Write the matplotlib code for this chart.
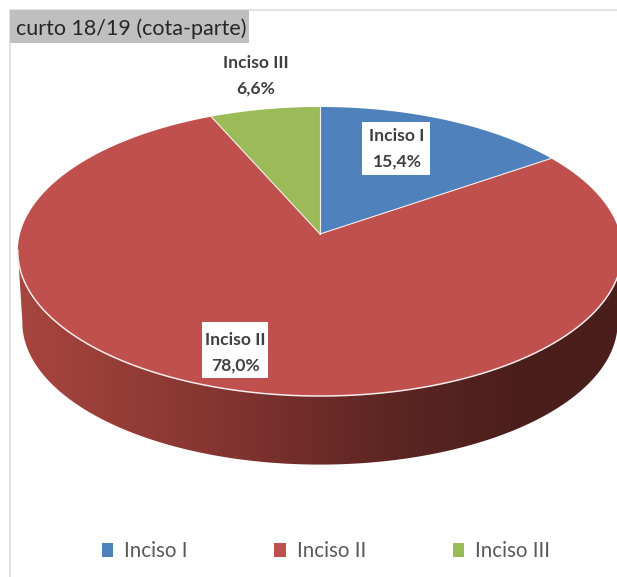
import numpy as np
import matplotlib
matplotlib.use("Agg")
import matplotlib.pyplot as plt
from matplotlib.patches import Polygon, Rectangle
from matplotlib.colors import LinearSegmentedColormap

categories = ["Inciso I", "Inciso II", "Inciso III"]
values = [15.4, 78.0, 6.6]
value_labels = ["15,4%", "78,0%", "6,6%"]
colors = ["#4F81BD", "#C0504D", "#9BBB59"]
title = "curto 18/19 (cota-parte)"

FONT = "Lato"
TXT = "#404040"

fig = plt.figure(figsize=(6.17, 5.77), dpi=100, facecolor="white")
ax = fig.add_axes([0, 0, 1, 1])
ax.set_xlim(0, 617)
ax.set_ylim(577, 0)
ax.axis("off")

# perspective projection of the pie disc
CX, CY, A, B, K = 320.0, 234.0, 300.0, 142.4, 0.1211


def project(theta, dy=0.0, s=1.0):
    u, v = np.sin(theta), np.cos(theta)
    w = 1 + K * v
    return np.column_stack([CX + s * A * u / w, CY + dy - s * B * v / w])


# chart frame
ax.plot([10, 10, 617], [577, 9.5, 9.5], color="#E3E3E3", lw=1.4, zorder=1)

# side wall
t_front = np.linspace(np.radians(96.5), np.radians(263.5), 200)
top_front = project(t_front)
low_front = project(t_front, dy=71, s=0.985)
wall_pts = np.vstack([top_front, low_front[::-1]])
wall = Polygon(wall_pts, closed=True, transform=ax.transData, fc="none", ec="none")
ax.add_patch(wall)
cmap = LinearSegmentedColormap.from_list(
    "wall", [(0, "#A8453F"), (0.33, "#853531"), (0.62, "#5C2522"), (0.85, "#4A1E1B"), (1, "#4A1E1B")]
)
grad = np.linspace(0, 1, 256).reshape(1, -1)
im = ax.imshow(grad, extent=[18, 622, 480, 240], cmap=cmap, aspect="auto", zorder=2)
im.set_clip_path(wall)
ax.set_xlim(0, 617)
ax.set_ylim(577, 0)

# top slices
edges = np.cumsum([0] + values) / sum(values) * 2 * np.pi
for i, col in enumerate(colors):
    th = np.linspace(edges[i], edges[i + 1], 200)
    pts = np.vstack([[CX, CY], project(th)])
    ax.add_patch(Polygon(pts, closed=True, fc=col, ec="none", zorder=3))
for e in edges[:3]:
    p = project(np.array([e]))[0]
    ax.plot([CX, p[0]], [CY, p[1]], color="#F4EDEC", lw=0.8, zorder=4)
rim = project(t_front)
ax.plot(rim[:, 0], rim[:, 1], color="#F6ECEB", lw=1.1, zorder=4)

# title
ax.add_patch(Rectangle((10, 10), 239, 32.5, fc="#BFBFBF", ec="none", zorder=5))
ax.text(16, 29, title, fontsize=15.5, family=FONT, color="#262626", va="center", ha="left", zorder=6)

# data labels
label_pos = [(397, 149), (235, 353), (256, 76)]
boxes = [(362, 122, 68, 53), (202, 322, 66, 56), None]
for name, val, (x, y), box in zip(categories, value_labels, label_pos, boxes):
    if box:
        ax.add_patch(Rectangle(box[:2], box[2], box[3], fc="white", ec="none", zorder=5))
    ax.text(x, y - 13, name, fontsize=12.6, family=FONT, weight="bold", color=TXT, ha="center", va="center", zorder=6)
    ax.text(x, y + 13, val, fontsize=12.6, family=FONT, weight="bold", color=TXT, ha="center", va="center", zorder=6)

# legend
handles = [Rectangle((0, 0), 1, 1, fc=c, ec="none") for c in colors]
leg = ax.legend(
    handles, categories, ncol=3, loc="center", bbox_to_anchor=(326 / 617, 1 - 551 / 577),
    frameon=False, prop={"family": FONT, "size": 14.8}, labelcolor="#595959",
    handlelength=0.55, handleheight=0.65, handletextpad=0.55, columnspacing=4.2,
)

fig.savefig("out.png", dpi=100, facecolor="white")
